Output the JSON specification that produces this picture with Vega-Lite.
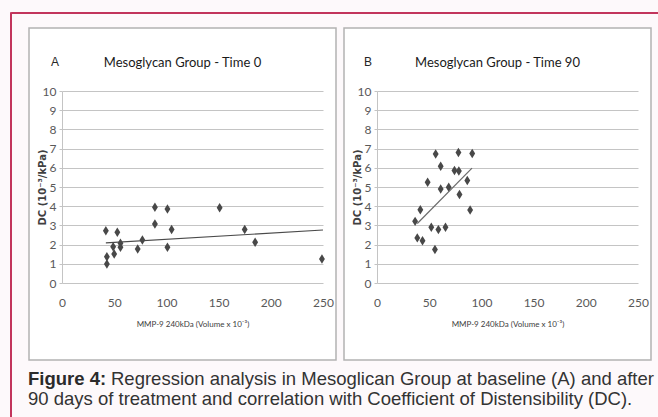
{
  "$schema": "https://vega.github.io/schema/vega-lite/v6.json",
  "background": "#fdf9fb",
  "padding": {"left": 9, "top": 11, "right": 0, "bottom": 0},
  "config": {"view": {"stroke": null}},
  "datasets": {
    "pointsA": [
      {"mmp9": 42, "dc": 2.72}, {"mmp9": 43, "dc": 1.37}, {"mmp9": 43, "dc": 0.99},
      {"mmp9": 49, "dc": 1.89}, {"mmp9": 50, "dc": 1.51}, {"mmp9": 53, "dc": 2.64},
      {"mmp9": 56, "dc": 2.07}, {"mmp9": 56, "dc": 1.86}, {"mmp9": 72.5, "dc": 1.77},
      {"mmp9": 77, "dc": 2.24}, {"mmp9": 89, "dc": 3.94}, {"mmp9": 89, "dc": 3.07},
      {"mmp9": 101, "dc": 3.85}, {"mmp9": 101, "dc": 1.86}, {"mmp9": 105, "dc": 2.79},
      {"mmp9": 151, "dc": 3.92}, {"mmp9": 175, "dc": 2.79}, {"mmp9": 185, "dc": 2.12},
      {"mmp9": 249, "dc": 1.25}
    ],
    "lineA": [{"mmp9": 42, "dc": 2.09}, {"mmp9": 250, "dc": 2.76}],
    "pointsB": [
      {"mmp9": 56.2, "dc": 6.72}, {"mmp9": 78, "dc": 6.8}, {"mmp9": 91.2, "dc": 6.75},
      {"mmp9": 61, "dc": 6.08}, {"mmp9": 74.2, "dc": 5.86}, {"mmp9": 78.4, "dc": 5.83},
      {"mmp9": 48.5, "dc": 5.25}, {"mmp9": 86.5, "dc": 5.34}, {"mmp9": 61, "dc": 4.9},
      {"mmp9": 68.7, "dc": 4.99}, {"mmp9": 79, "dc": 4.61}, {"mmp9": 41.5, "dc": 3.82},
      {"mmp9": 89.2, "dc": 3.8}, {"mmp9": 36.5, "dc": 3.21}, {"mmp9": 52, "dc": 2.9},
      {"mmp9": 58.8, "dc": 2.78}, {"mmp9": 65.6, "dc": 2.9}, {"mmp9": 38.6, "dc": 2.35},
      {"mmp9": 43.6, "dc": 2.2}, {"mmp9": 55.5, "dc": 1.75}
    ],
    "lineB": [{"mmp9": 38.6, "dc": 3.1}, {"mmp9": 91, "dc": 5.98}],
    "none": []
  },
  "spacing": 0,
  "bounds": "flush",
  "hconcat": [
    {
      "width": 1,
      "height": 406,
      "view": {"stroke": "#c2355c", "strokeWidth": 1},
      "data": {"name": "none"},
      "mark": {"type": "text", "text": ""}
    },
    {
      "spacing": 0,
      "vconcat": [
        {
          "width": 648,
          "height": 1,
          "view": {"stroke": "#c2355c", "strokeWidth": 1},
          "data": {"name": "none"},
          "mark": {"type": "text", "text": ""}
        },
        {
          "width": 648,
          "height": 13,
          "data": {"name": "none"},
          "mark": {"type": "text", "text": ""}
        },
        {
          "spacing": 8,
          "bounds": "flush",
          "hconcat": [
            {
              "width": 10,
              "height": 332,
              "data": {"name": "none"},
              "mark": {"type": "text", "text": ""}
            },
            {
              "width": 307,
              "height": 332,
              "view": {"stroke": "#b3b3b3", "strokeWidth": 1.5, "fill": "#ffffff"},
              "title": {"text": "Mesoglycan Group - Time 0", "offset": -52, "baseline": "alphabetic", "anchor": "middle", "frame": "group", "font": "Lato, sans-serif", "fontSize": 13, "fontWeight": "normal", "color": "#1a1a1a"},
              "layer": [
                {
                  "data": {"name": "pointsA"},
                  "mark": {"type": "point", "shape": "M0,-1L0.62,0L0,1L-0.62,0Z", "filled": true, "color": "#484848", "opacity": 1, "size": 90},
                  "encoding": {
                    "x": {"field": "mmp9", "type": "quantitative", "title": "MMP-9 240kDa (Volume x 10⁻³)",
                      "scale": {"domain": [0, 250], "range": [33, 294], "nice": false, "zero": false},
                      "axis": {"orient": "bottom", "offset": -77, "values": [0, 50, 100, 150, 200, 250], "tickCount": 6, "grid": false, "domain": false, "ticks": false, "tickSize": 0, "labelPadding": 14, "labelFont": "Lato, sans-serif", "labelFontSize": 12, "labelColor": "#595959", "labelFlush": false, "titleFont": "Lato, sans-serif", "titleFontSize": 8, "titleFontWeight": "normal", "titleColor": "#404040", "titleX": 163.5, "titleY": 41, "titleBaseline": "middle", "titleAlign": "center"}},
                    "y": {"field": "dc", "type": "quantitative", "title": "DC (10⁻³/kPa)",
                      "scale": {"domain": [0, 10], "range": [255, 63], "nice": false, "zero": false},
                      "axis": {"orient": "left", "offset": -33, "values": [0, 1, 2, 3, 4, 5, 6, 7, 8, 9, 10], "tickCount": 11, "labelOverlap": false, "grid": true, "gridColor": "#c4c4c4", "gridWidth": 1, "domain": true, "domainColor": "#c4c4c4", "ticks": true, "tickSize": 3, "tickColor": "#c4c4c4", "labelPadding": 3, "labelFont": "Lato, sans-serif", "labelFontSize": 12, "labelColor": "#595959", "titleFont": "DejaVu Sans, sans-serif", "titleFontSize": 10, "titleFontWeight": "bold", "titleColor": "#404040", "titleX": -20, "titleY": 159, "titleAngle": 270, "titleAlign": "center", "titleBaseline": "middle"}}
                  }
                },
                {
                  "data": {"name": "lineA"},
                  "mark": {"type": "line", "color": "#4a4a4a", "strokeWidth": 1.2},
                  "encoding": {
                    "x": {"field": "mmp9", "type": "quantitative", "title": "MMP-9 240kDa (Volume x 10⁻³)"},
                    "y": {"field": "dc", "type": "quantitative", "title": "DC (10⁻³/kPa)"}
                  }
                },
                {
                  "data": {"values": [{"label": "A"}]},
                  "mark": {"type": "text", "align": "center", "baseline": "middle", "font": "Liberation Sans, sans-serif", "fontSize": 12, "color": "#262626"},
                  "encoding": {
                    "x": {"datum": -6.7, "type": "quantitative", "title": "MMP-9 240kDa (Volume x 10⁻³)"},
                    "y": {"datum": 11.5, "type": "quantitative", "title": "DC (10⁻³/kPa)"},
                    "text": {"field": "label"}
                  }
                }
              ]
            },
            {
              "width": 307,
              "height": 332,
              "view": {"stroke": "#b3b3b3", "strokeWidth": 1.5, "fill": "#ffffff"},
              "title": {"text": "Mesoglycan Group - Time 90", "offset": -52, "baseline": "alphabetic", "anchor": "middle", "frame": "group", "font": "Lato, sans-serif", "fontSize": 13, "fontWeight": "normal", "color": "#1a1a1a"},
              "layer": [
                {
                  "data": {"name": "pointsB"},
                  "mark": {"type": "point", "shape": "M0,-1L0.62,0L0,1L-0.62,0Z", "filled": true, "color": "#484848", "opacity": 1, "size": 90},
                  "encoding": {
                    "x": {"field": "mmp9", "type": "quantitative", "title": "MMP-9 240kDa (Volume x 10⁻³)",
                      "scale": {"domain": [0, 250], "range": [33, 294], "nice": false, "zero": false},
                      "axis": {"orient": "bottom", "offset": -77, "values": [0, 50, 100, 150, 200, 250], "tickCount": 6, "grid": false, "domain": false, "ticks": false, "tickSize": 0, "labelPadding": 14, "labelFont": "Lato, sans-serif", "labelFontSize": 12, "labelColor": "#595959", "labelFlush": false, "titleFont": "Lato, sans-serif", "titleFontSize": 8, "titleFontWeight": "normal", "titleColor": "#404040", "titleX": 163.5, "titleY": 41, "titleBaseline": "middle", "titleAlign": "center"}},
                    "y": {"field": "dc", "type": "quantitative", "title": "DC (10⁻³/kPa)",
                      "scale": {"domain": [0, 10], "range": [255, 63], "nice": false, "zero": false},
                      "axis": {"orient": "left", "offset": -33, "values": [0, 1, 2, 3, 4, 5, 6, 7, 8, 9, 10], "tickCount": 11, "labelOverlap": false, "grid": true, "gridColor": "#c4c4c4", "gridWidth": 1, "domain": true, "domainColor": "#c4c4c4", "ticks": true, "tickSize": 3, "tickColor": "#c4c4c4", "labelPadding": 3, "labelFont": "Lato, sans-serif", "labelFontSize": 12, "labelColor": "#595959", "titleFont": "DejaVu Sans, sans-serif", "titleFontSize": 10, "titleFontWeight": "bold", "titleColor": "#404040", "titleX": -20, "titleY": 159, "titleAngle": 270, "titleAlign": "center", "titleBaseline": "middle"}}
                  }
                },
                {
                  "data": {"name": "lineB"},
                  "mark": {"type": "line", "color": "#6a6a6a", "strokeWidth": 1.2},
                  "encoding": {
                    "x": {"field": "mmp9", "type": "quantitative", "title": "MMP-9 240kDa (Volume x 10⁻³)"},
                    "y": {"field": "dc", "type": "quantitative", "title": "DC (10⁻³/kPa)"}
                  }
                },
                {
                  "data": {"values": [{"label": "B"}]},
                  "mark": {"type": "text", "align": "center", "baseline": "middle", "font": "Liberation Sans, sans-serif", "fontSize": 12, "color": "#262626"},
                  "encoding": {
                    "x": {"datum": -8.6, "type": "quantitative", "title": "MMP-9 240kDa (Volume x 10⁻³)"},
                    "y": {"datum": 11.5, "type": "quantitative", "title": "DC (10⁻³/kPa)"},
                    "text": {"field": "label"}
                  }
                }
              ]
            }
          ]
        },
        {
          "width": 648,
          "height": 56,
          "data": {"values": [{}]},
          "layer": [
            {
              "mark": {"type": "text", "text": "Figure 4:", "align": "left", "baseline": "alphabetic", "font": "Liberation Sans, Arial, sans-serif", "fontSize": 18.5, "fontWeight": "bold", "color": "#2b2b2b"},
              "encoding": {"x": {"value": 17}, "y": {"value": 24}}
            },
            {
              "mark": {"type": "text", "text": "Regression analysis in Mesoglican Group at baseline (A) and after", "align": "left", "baseline": "alphabetic", "font": "Liberation Sans, Arial, sans-serif", "fontSize": 18.5, "fontWeight": "normal", "color": "#333333", "dx": 83},
              "encoding": {"x": {"value": 17}, "y": {"value": 24}}
            },
            {
              "mark": {"type": "text", "text": "90 days of treatment and correlation with Coefficient of Distensibility (DC).", "align": "left", "baseline": "alphabetic", "font": "Liberation Sans, Arial, sans-serif", "fontSize": 18.5, "fontWeight": "normal", "color": "#333333"},
              "encoding": {"x": {"value": 17}, "y": {"value": 44}}
            }
          ]
        }
      ]
    }
  ]
}
